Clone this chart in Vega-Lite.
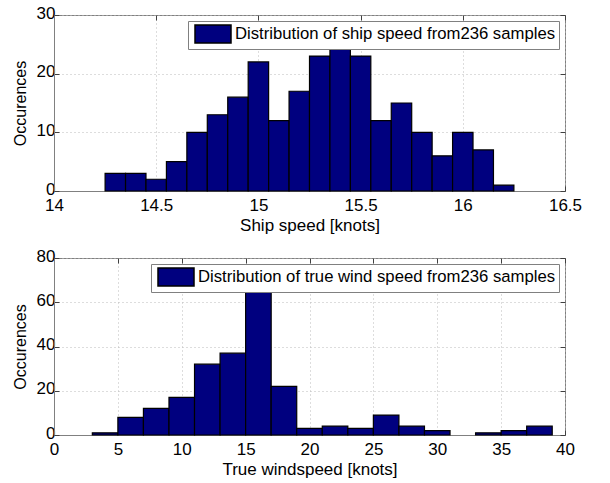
{
  "$schema": "https://vega.github.io/schema/vega-lite/v6.json",
  "padding": {"left": 11, "top": 3, "right": 10, "bottom": 5},
  "spacing": 12,
  "config": {
    "font": "Liberation Sans",
    "view": {"stroke": "#808080", "strokeWidth": 1},
    "axis": {
      "labelFont": "Liberation Sans", "labelFontSize": 17, "labelColor": "black", "labelFlush": false, "labelOverlap": false,
      "titleFont": "Liberation Sans", "titleFontSize": 17, "titleFontWeight": "normal", "titleColor": "black",
      "domainColor": "#808080", "tickColor": "#404040", "tickSize": -5, "labelPadding": 11, "titlePadding": 4,
      "gridColor": "#bbbbbb", "gridDash": [1, 3], "gridOpacity": 1
    },
    "axisY": {"labelPadding": 4, "labelOffset": -2, "titleFontSize": 16, "titlePadding": 8},
    "legend": {
      "orient": "top-right", "offset": 6, "fillColor": "white", "strokeColor": "#808080",
      "padding": 3, "labelFont": "Liberation Sans", "labelFontSize": 16.7, "labelColor": "black",
      "symbolType": "M-2,-1H2V1H-2Z", "symbolSize": 324, "symbolOffset": 12, "symbolStrokeColor": "black",
      "symbolStrokeWidth": 1.5, "symbolOpacity": 1, "labelOffset": 12, "labelLimit": 0, "title": null
    }
  },
  "resolve": {"scale": {"color": "independent", "x": "independent", "y": "independent"}, "legend": {"color": "independent"}},
  "vconcat": [
    {
      "width": 511, "height": 176,
      "data": {"values": [
        {"lo": 14.25, "hi": 14.35, "n": 3}, {"lo": 14.35, "hi": 14.45, "n": 3}, {"lo": 14.45, "hi": 14.55, "n": 2},
        {"lo": 14.55, "hi": 14.65, "n": 5}, {"lo": 14.65, "hi": 14.75, "n": 10}, {"lo": 14.75, "hi": 14.85, "n": 13},
        {"lo": 14.85, "hi": 14.95, "n": 16}, {"lo": 14.95, "hi": 15.05, "n": 22}, {"lo": 15.05, "hi": 15.15, "n": 12},
        {"lo": 15.15, "hi": 15.25, "n": 17}, {"lo": 15.25, "hi": 15.35, "n": 23}, {"lo": 15.35, "hi": 15.45, "n": 26},
        {"lo": 15.45, "hi": 15.55, "n": 23}, {"lo": 15.55, "hi": 15.65, "n": 12}, {"lo": 15.65, "hi": 15.75, "n": 15},
        {"lo": 15.75, "hi": 15.85, "n": 10}, {"lo": 15.85, "hi": 15.95, "n": 6}, {"lo": 15.95, "hi": 16.05, "n": 10},
        {"lo": 16.05, "hi": 16.15, "n": 7}, {"lo": 16.15, "hi": 16.25, "n": 1}
      ]},
      "resolve": {"axis": {"x": "independent", "y": "independent"}},
      "layer": [
        {
          "mark": {"type": "bar", "stroke": "black", "strokeWidth": 1.2, "opacity": 1},
          "encoding": {
            "x": {"field": "lo", "type": "quantitative", "scale": {"domain": [14, 16.5], "nice": false, "zero": false},
                  "axis": {"values": [14, 14.5, 15, 15.5, 16, 16.5], "format": "~g", "title": "Ship speed [knots]", "grid": true}},
            "x2": {"field": "hi"},
            "y": {"field": "n", "type": "quantitative", "scale": {"domain": [0, 30], "nice": false},
                  "axis": {"values": [0, 10, 20, 30], "title": "Occurences", "grid": true}},
            "y2": {"datum": 0},
            "color": {"datum": "Distribution of ship speed from236 samples", "scale": {"range": ["#00007F"]}}
          }
        },
        {
          "mark": {"type": "rule", "opacity": 0},
          "encoding": {
            "x": {"field": "lo", "type": "quantitative",
                  "axis": {"orient": "top", "values": [14, 14.5, 15, 15.5, 16, 16.5], "labels": false, "title": null, "grid": false, "domain": false}},
            "y": {"field": "n", "type": "quantitative",
                  "axis": {"orient": "right", "values": [0, 10, 20, 30], "labels": false, "title": null, "grid": false, "domain": false}}
          }
        }
      ]
    },
    {
      "width": 511, "height": 177,
      "data": {"values": [
        {"a": 3, "b": 5, "c": 1}, {"a": 5, "b": 7, "c": 8}, {"a": 7, "b": 9, "c": 12}, {"a": 9, "b": 11, "c": 17},
        {"a": 11, "b": 13, "c": 32}, {"a": 13, "b": 15, "c": 37}, {"a": 15, "b": 17, "c": 75}, {"a": 17, "b": 19, "c": 22},
        {"a": 19, "b": 21, "c": 3}, {"a": 21, "b": 23, "c": 4}, {"a": 23, "b": 25, "c": 3}, {"a": 25, "b": 27, "c": 9},
        {"a": 27, "b": 29, "c": 4}, {"a": 29, "b": 31, "c": 2}, {"a": 33, "b": 35, "c": 1},
        {"a": 35, "b": 37, "c": 2}, {"a": 37, "b": 39, "c": 4}
      ]},
      "resolve": {"axis": {"x": "independent", "y": "independent"}},
      "layer": [
        {
          "mark": {"type": "bar", "stroke": "black", "strokeWidth": 1.2, "opacity": 1},
          "encoding": {
            "x": {"field": "a", "type": "quantitative", "scale": {"domain": [0, 40], "nice": false},
                  "axis": {"values": [0, 5, 10, 15, 20, 25, 30, 35, 40], "title": "True windspeed [knots]", "grid": true}},
            "x2": {"field": "b"},
            "y": {"field": "c", "type": "quantitative", "scale": {"domain": [0, 80], "nice": false},
                  "axis": {"values": [0, 20, 40, 60, 80], "title": "Occurences", "grid": true}},
            "y2": {"datum": 0},
            "color": {"datum": "Distribution of true wind speed from236 samples", "scale": {"range": ["#00007F"]}}
          }
        },
        {
          "mark": {"type": "rule", "opacity": 0},
          "encoding": {
            "x": {"field": "a", "type": "quantitative",
                  "axis": {"orient": "top", "values": [0, 5, 10, 15, 20, 25, 30, 35, 40], "labels": false, "title": null, "grid": false, "domain": false}},
            "y": {"field": "c", "type": "quantitative",
                  "axis": {"orient": "right", "values": [0, 20, 40, 60, 80], "labels": false, "title": null, "grid": false, "domain": false}}
          }
        }
      ]
    }
  ]
}
